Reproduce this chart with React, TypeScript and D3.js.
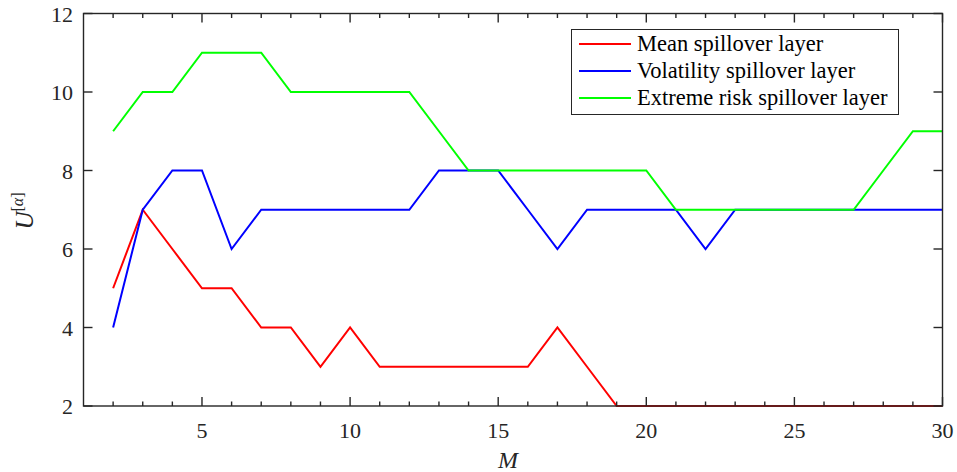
import React from "react";
import * as d3 from "d3";

const mValues = [2,3,4,5,6,7,8,9,10,11,12,13,14,15,16,17,18,19,20,21,22,23,24,25,26,27,28,29,30];
const meanLayer = [5,7,6,5,5,4,4,3,4,3,3,3,3,3,3,4,3,2,2,2,2,2,2,2,2,2,2,2,2];
const volatilityLayer = [4,7,8,8,6,7,7,7,7,7,7,8,8,8,7,6,7,7,7,7,6,7,7,7,7,7,7,7,7];
const extremeLayer = [9,10,10,11,11,11,10,10,10,10,10,9,8,8,8,8,8,8,8,7,7,7,7,7,7,7,8,9,9];
const seriesNames = ["Mean spillover layer", "Volatility spillover layer", "Extreme risk spillover layer"];
const seriesColors = ["#ff0000", "#0000ff", "#00ff00"];
const xMajorTicks = [5,10,15,20,25,30];
const yTicks = [2,4,6,8,10,12];

const W = 957, H = 472;
const L = 83.5, R = 942.5, T = 13.5, B = 406;
const FONT = "Liberation Serif, DejaVu Serif, serif";

export default function App() {
  const x = d3.scaleLinear().domain([1, 30]).range([L, R]);
  const y = d3.scaleLinear().domain([2, 12]).range([B, T]);
  const line = d3.line<number>().x((_, i) => x(mValues[i])).y(d => y(d));
  const series = [meanLayer, volatilityLayer, extremeLayer];
  const minor = d3.range(2, 30).filter(v => v % 5 !== 0);
  const axisColor = "#262626";
  const legX = 571.5, legY = 29.5, legW = 327, legH = 85;
  return (
    <svg width={W} height={H} style={{ position: "absolute", left: 0, top: 0, background: "#fff", fontFamily: FONT }}>
      <rect x={0} y={0} width={W} height={H} fill="#fff" />
      <g>
        {series.map((s, i) => (
          <path key={i} d={line(s) || ""} fill="none" stroke={seriesColors[i]} strokeWidth={2} strokeLinejoin="miter" />
        ))}
      </g>
      <g stroke={axisColor} strokeWidth={1.4}>
        <rect x={L} y={T} width={R - L} height={B - T} fill="none" />
        {minor.map(v => (
          <g key={"m" + v}>
            <line x1={x(v)} x2={x(v)} y1={B} y2={B - 4.5} />
            <line x1={x(v)} x2={x(v)} y1={T} y2={T + 4.5} />
          </g>
        ))}
        {xMajorTicks.map(v => (
          <g key={"M" + v}>
            <line x1={x(v)} x2={x(v)} y1={B} y2={B - 9} />
            <line x1={x(v)} x2={x(v)} y1={T} y2={T + 9} />
          </g>
        ))}
        {yTicks.map(v => (
          <g key={"y" + v}>
            <line x1={L} x2={L + 9} y1={y(v)} y2={y(v)} />
            <line x1={R} x2={R - 9} y1={y(v)} y2={y(v)} />
          </g>
        ))}
      </g>
      <g style={{ fontFamily: FONT }} fontSize={22} fill="#262626">
        {xMajorTicks.map(v => (
          <text key={"xl" + v} x={x(v)} y={438} textAnchor="middle">{v}</text>
        ))}
        {yTicks.map(v => (
          <text key={"yl" + v} x={L - 10.5} y={y(v) + 8} textAnchor="end">{v}</text>
        ))}
        <text x={508} y={468} textAnchor="middle" fontStyle="italic" fontSize={24}>M</text>
        <text transform={`translate(33, 211) rotate(-90)`} textAnchor="middle" fontSize={25}>
          <tspan fontStyle="italic">U</tspan>
          <tspan fontSize={16} dy={-10}>[</tspan>
          <tspan fontSize={16} fontStyle="italic">α</tspan>
          <tspan fontSize={16}>]</tspan>
        </text>
      </g>
      <g>
        <rect x={legX} y={legY} width={legW} height={legH} fill="#fff" stroke="#262626" strokeWidth={1} />
        {seriesNames.map((n, i) => {
          const ry = 44 + i * 27;
          return (
            <g key={n}>
              <line x1={579} x2={631} y1={ry} y2={ry} stroke={seriesColors[i]} strokeWidth={2} />
              <text x={637} y={ry + 7} style={{ fontFamily: FONT }} fontSize={22.5} fill="#000">{n}</text>
            </g>
          );
        })}
      </g>
    </svg>
  );
}
